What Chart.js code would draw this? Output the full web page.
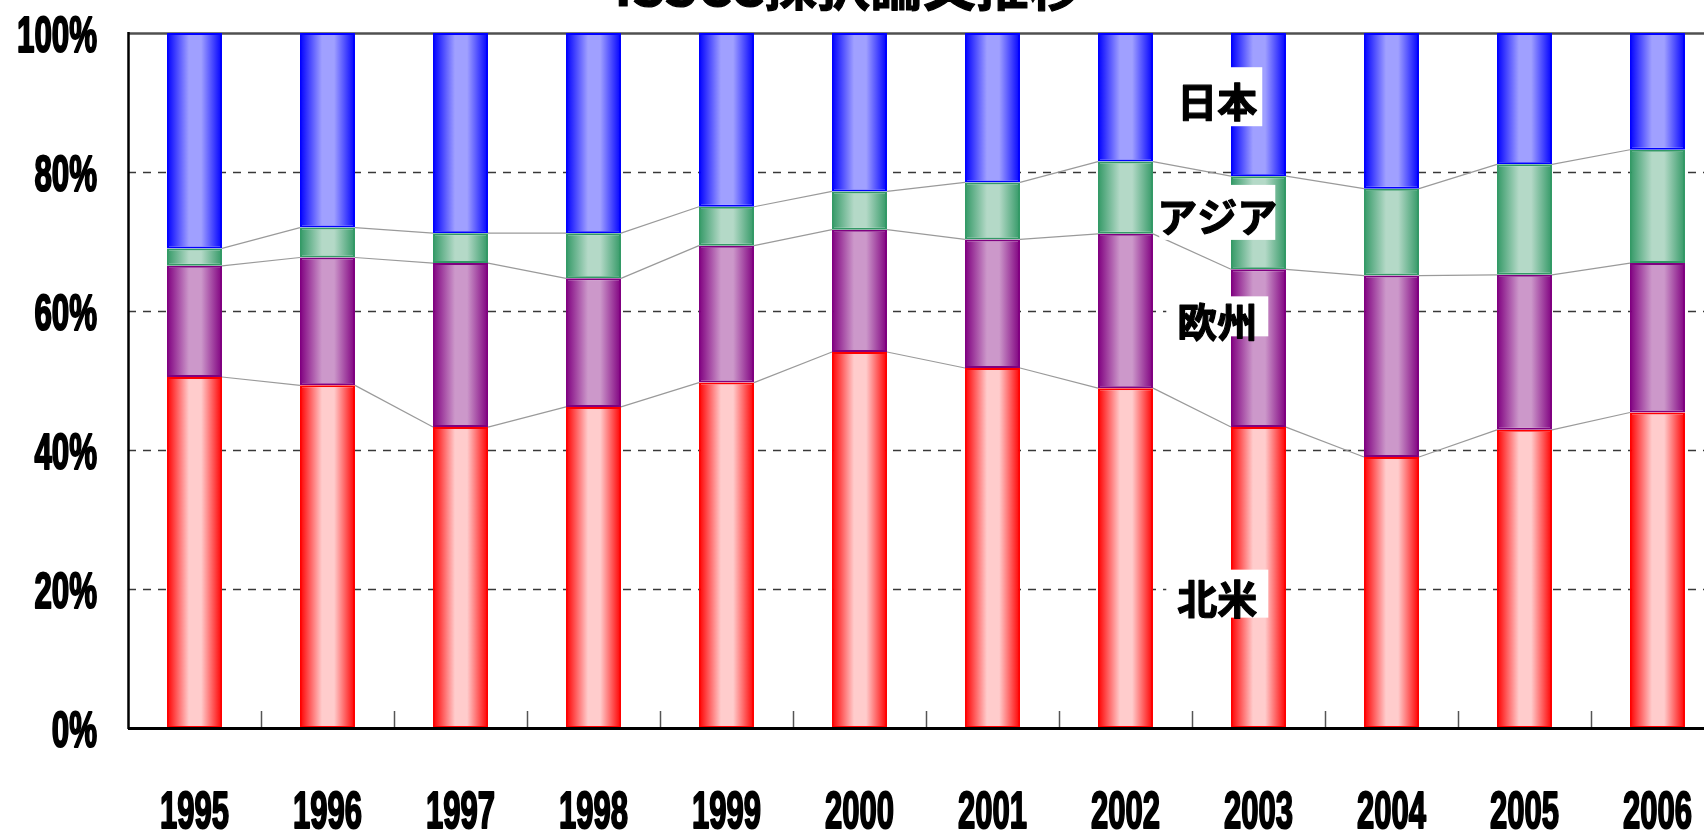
<!DOCTYPE html>
<html>
<head>
<meta charset="utf-8">
<script src="https://cdn.jsdelivr.net/npm/chart.js@4.4.1/dist/chart.umd.min.js"></script>
<style>
  html, body { margin: 0; padding: 0; background: #fff; overflow: hidden; width: 1704px; height: 830px; }
  #wrap { position: absolute; left: 0; top: 0; width: 1740px; height: 830px; }
</style>
</head>
<body>
<div id="wrap"><canvas id="chart" width="1740" height="830"></canvas></div>
<script>
// Share of accepted papers by region (%), stacked to 100%
const years = ['1995', '1996', '1997', '1998', '1999', '2000', '2001', '2002', '2003', '2004', '2005', '2006'];
const northAmerica = [50.5, 49.3, 43.3, 46.2, 49.7, 54.1, 51.8, 48.9, 43.3, 39.0, 42.9, 45.4];
const europe       = [16.0, 18.4, 23.6, 18.5, 19.7, 17.6, 18.5, 22.2, 22.7, 26.1, 22.3, 21.5];
const asia         = [ 2.5,  4.3,  4.3,  6.5,  5.6,  5.5,  8.2, 10.4, 13.4, 12.5, 15.9, 16.3];
const japan        = [31.0, 28.0, 28.8, 28.8, 25.0, 22.8, 21.5, 18.5, 20.6, 22.4, 18.9, 16.8];
const yTicks = [0, 20, 40, 60, 80, 100];
const seriesNames = ['北米', '欧州', 'アジア', '日本'];
const titleText = 'ISSCC採択論文推移';

const BAR_FRACTION = 0.414;
const NUM_FONT = '"Liberation Sans Narrow", "Liberation Sans", Arial, sans-serif';
const CJK_FONT = '"Noto Sans CJK JP", "Noto Sans CJK SC", sans-serif';

// Horizontal "cylinder" fill: saturated edges, pale centre
function barFill(dark, light) {
  return (ctx) => {
    const chart = ctx.chart;
    const xs = chart.scales && chart.scales.x;
    if (!chart.chartArea || !xs || ctx.type !== 'data') return dark;
    const cx = xs.getPixelForValue(ctx.dataIndex);
    const w = xs.width / years.length * BAR_FRACTION;
    const g = chart.ctx.createLinearGradient(cx - w / 2, 0, cx + w / 2, 0);
    g.addColorStop(0, dark);
    g.addColorStop(0.4, light);
    g.addColorStop(0.62, light);
    g.addColorStop(1, dark);
    return g;
  };
}

function series(label, data, dark, light) {
  return {
    label, data,
    backgroundColor: barFill(dark, light),
    borderColor: dark,
    borderWidth: 2,
    borderSkipped: false,
    barPercentage: BAR_FRACTION,
    categoryPercentage: 1.0
  };
}

// Heavy text: fill plus a thin outline of the same colour
function heavyText(ctx, text, x, y, weight) {
  ctx.fillText(text, x, y);
  ctx.lineWidth = weight;
  ctx.lineJoin = 'round';
  ctx.strokeStyle = ctx.fillStyle;
  ctx.strokeText(text, x, y);
}

// Dashed gridlines and the solid 100% line, behind the bars
const gridPlugin = {
  id: 'gridLines',
  beforeDatasetsDraw(chart) {
    const { ctx, chartArea: a, scales: { y } } = chart;
    ctx.save();
    yTicks.forEach(v => {
      if (v === 0) return;
      const py = Math.round(y.getPixelForValue(v)) + 0.5;
      ctx.beginPath();
      if (v === 100) {
        ctx.setLineDash([]);
        ctx.strokeStyle = '#505050';
        ctx.lineWidth = 2.5;
      } else {
        ctx.setLineDash([8, 7]);
        ctx.strokeStyle = '#383838';
        ctx.lineWidth = 1.3;
      }
      ctx.moveTo(a.left, py);
      ctx.lineTo(a.right, py);
      ctx.stroke();
    });
    ctx.restore();
  }
};

// Series lines joining segment boundaries of neighbouring bars
const seriesLinePlugin = {
  id: 'seriesLines',
  afterDatasetsDraw(chart) {
    const { ctx } = chart;
    ctx.save();
    ctx.strokeStyle = '#9a9a9a';
    ctx.lineWidth = 1.2;
    for (let d = 0; d < chart.data.datasets.length - 1; d++) {
      const bars = chart.getDatasetMeta(d).data;
      for (let i = 0; i < bars.length - 1; i++) {
        const a = bars[i], b = bars[i + 1];
        ctx.beginPath();
        ctx.moveTo(a.x + a.width / 2, a.y);
        ctx.lineTo(b.x - b.width / 2, b.y);
        ctx.stroke();
      }
    }
    ctx.restore();
  }
};

// Axis lines, category tick marks, tick labels, region labels and title
const decorPlugin = {
  id: 'decor',
  afterDatasetsDraw(chart, args, opts) {
    const { ctx, chartArea: a, scales: { x, y } } = chart;
    ctx.save();

    // category separators on the bottom axis
    ctx.strokeStyle = '#555';
    ctx.lineWidth = 1.5;
    for (let k = 1; k <= years.length; k++) {
      const px = Math.round(x.getPixelForValue(k - 0.5)) + 0.5;
      ctx.beginPath();
      ctx.moveTo(px, a.bottom - 17);
      ctx.lineTo(px, a.bottom);
      ctx.stroke();
    }

    // value axis and category axis
    ctx.strokeStyle = '#000';
    ctx.lineWidth = 2.5;
    ctx.beginPath();
    ctx.moveTo(a.left + 0.5, a.top - 1);
    ctx.lineTo(a.left + 0.5, a.bottom + 1);
    ctx.stroke();
    ctx.lineWidth = 3;
    ctx.beginPath();
    ctx.moveTo(a.left, a.bottom + 0.5);
    ctx.lineTo(a.right, a.bottom + 0.5);
    ctx.stroke();

    // condensed bold tick labels
    ctx.fillStyle = '#000';
    ctx.font = 'bold 52px ' + NUM_FONT;
    const sxYear = 69 / ctx.measureText('1995').width;
    ctx.textAlign = 'center';
    ctx.textBaseline = 'alphabetic';
    years.forEach((lab, i) => {
      const px = x.getPixelForValue(i);
      ctx.save();
      ctx.translate(px, 809 + 52 * 0.716 / 2);
      ctx.scale(sxYear, 1);
      heavyText(ctx, lab, 0, 0, 2.2);
      ctx.restore();
    });

    ctx.font = 'bold 50px ' + NUM_FONT;
    const sxVal = 80 / ctx.measureText('100%').width;
    ctx.textAlign = 'right';
    yTicks.forEach(v => {
      const py = y.getPixelForValue(v);
      ctx.save();
      ctx.translate(97, py + 1.5 + 50 * 0.716 / 2);
      ctx.scale(sxVal, 1);
      heavyText(ctx, v + '%', 0, 0, 2.2);
      ctx.restore();
    });

    // region labels on white boxes
    ctx.font = 'bold 40px ' + CJK_FONT;
    ctx.textAlign = 'center';
    ctx.textBaseline = 'middle';
    opts.labels.forEach(l => {
      const cx = x.getPixelForValue(l.at);
      const cy = y.getPixelForValue(l.value);
      ctx.fillStyle = '#fff';
      ctx.fillRect(cx - l.w / 2, cy + l.dy - l.h / 2, l.w, l.h);
      ctx.fillStyle = '#000';
      heavyText(ctx, seriesNames[l.series], cx, cy + 2, 1.2);
    });

    // title, running off the top edge
    ctx.font = 'bold 48px ' + CJK_FONT;
    const tw = ctx.measureText(titleText).width;
    const fs = 48 * 467 / tw;
    ctx.font = 'bold ' + fs.toFixed(1) + 'px ' + CJK_FONT;
    ctx.textBaseline = 'alphabetic';
    ctx.fillStyle = '#000';
    heavyText(ctx, titleText, 848, 6, 1.2);

    ctx.restore();
  }
};

new Chart(document.getElementById('chart'), {
  type: 'bar',
  data: {
    labels: years,
    datasets: [
      series(seriesNames[0], northAmerica, '#FF0000', '#FFCCCC'),
      series(seriesNames[1], europe, '#800080', '#CC98CA'),
      series(seriesNames[2], asia, '#339966', '#B4D9C7'),
      series(seriesNames[3], japan, '#0000FF', '#A0A0FF')
    ]
  },
  options: {
    responsive: false,
    devicePixelRatio: 1,
    animation: false,
    layout: { padding: { left: 128, top: 33, right: 16, bottom: 102 } },
    scales: {
      x: { stacked: true, display: false },
      y: { stacked: true, display: false, min: 0, max: 100 }
    },
    plugins: {
      legend: { display: false },
      tooltip: { enabled: false },
      title: { display: false },
      decor: {
        labels: [
          { series: 3, at: 7.69, value: 90.4, w: 90, h: 59, dy: -3 },
          { series: 2, at: 7.69, value: 73.9, w: 116, h: 55, dy: -2 },
          { series: 1, at: 7.69, value: 58.8, w: 102, h: 40, dy: -3 },
          { series: 0, at: 7.69, value: 18.9, w: 102, h: 48, dy: -3 }
        ]
      }
    }
  },
  plugins: [gridPlugin, seriesLinePlugin, decorPlugin]
});
</script>
</body>
</html>
